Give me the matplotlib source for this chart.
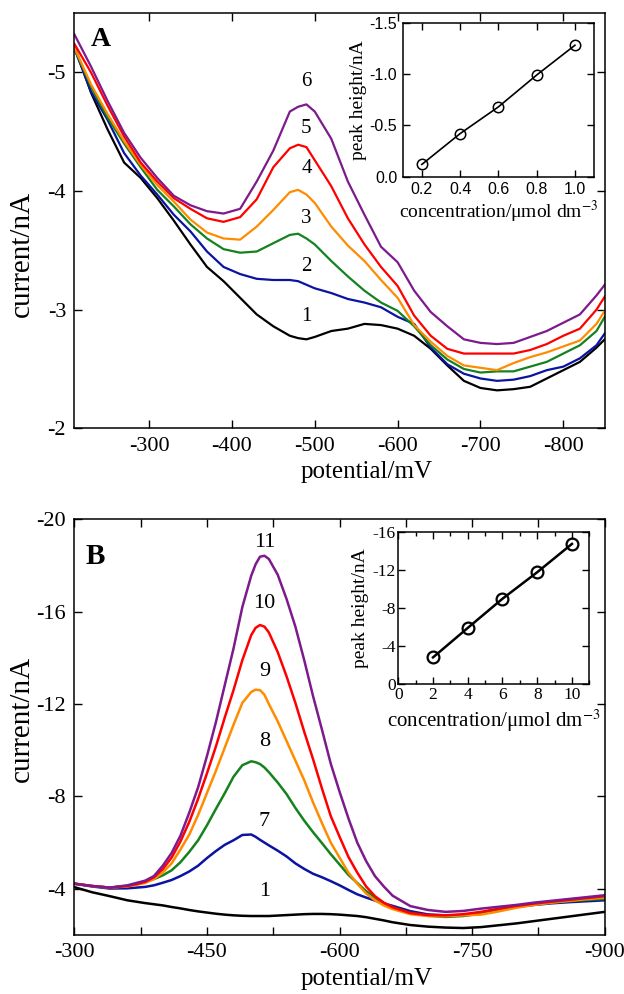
import matplotlib
matplotlib.use('Agg')
import matplotlib.pyplot as plt
from matplotlib.ticker import FormatStrFormatter, MultipleLocator

plt.rcParams['font.family'] = 'Liberation Serif'
plt.rcParams['mathtext.fontset'] = 'stix'
plt.rcParams['axes.unicode_minus'] = False

# ---- panel A: voltammograms (potential / mV, current / nA)
potA = [-210, -230, -250, -270, -290, -310, -330, -350, -370, -390, -410, -430,
        -450, -470, -480, -490, -500, -520, -540, -560, -580, -600, -620, -640,
        -660, -680, -700, -720, -740, -760, -780, -800, -820, -840, -850]
a1 = [-5.22, -4.83, -4.52, -4.24, -4.11, -3.94, -3.75, -3.55, -3.36, -3.24, -3.10, -2.96,
      -2.86, -2.78, -2.76, -2.75, -2.77, -2.82, -2.84, -2.88, -2.87, -2.84, -2.78, -2.67,
      -2.53, -2.40, -2.34, -2.32, -2.33, -2.35, -2.42, -2.49, -2.56, -2.68, -2.75]
a2 = [-5.20, -4.84, -4.60, -4.32, -4.13, -3.97, -3.80, -3.66, -3.49, -3.36, -3.30, -3.26,
      -3.25, -3.25, -3.24, -3.21, -3.18, -3.14, -3.09, -3.06, -3.02, -2.94, -2.88, -2.68,
      -2.54, -2.46, -2.42, -2.40, -2.41, -2.44, -2.49, -2.52, -2.59, -2.70, -2.80]
a3 = [-5.20, -4.88, -4.62, -4.40, -4.20, -4.01, -3.87, -3.72, -3.60, -3.51, -3.48, -3.49,
      -3.56, -3.63, -3.64, -3.60, -3.55, -3.41, -3.28, -3.16, -3.06, -2.99, -2.86, -2.70,
      -2.58, -2.50, -2.47, -2.48, -2.48, -2.52, -2.56, -2.63, -2.70, -2.82, -2.94]
a4 = [-5.21, -4.90, -4.65, -4.42, -4.22, -4.05, -3.91, -3.76, -3.65, -3.60, -3.59, -3.70,
      -3.84, -3.99, -4.01, -3.97, -3.90, -3.70, -3.54, -3.41, -3.25, -3.10, -2.87, -2.73,
      -2.61, -2.53, -2.51, -2.49, -2.55, -2.60, -2.64, -2.69, -2.74, -2.88, -2.99]
a5 = [-5.24, -5.00, -4.72, -4.46, -4.24, -4.08, -3.94, -3.85, -3.77, -3.74, -3.78, -3.93,
      -4.20, -4.36, -4.39, -4.37, -4.26, -4.04, -3.77, -3.55, -3.36, -3.20, -2.95, -2.78,
      -2.67, -2.63, -2.63, -2.63, -2.63, -2.66, -2.71, -2.78, -2.84, -3.00, -3.11]
a6 = [-5.32, -5.05, -4.76, -4.49, -4.28, -4.11, -3.96, -3.88, -3.83, -3.81, -3.85, -4.08,
      -4.34, -4.67, -4.71, -4.73, -4.67, -4.44, -4.08, -3.80, -3.53, -3.40, -3.16, -2.98,
      -2.86, -2.75, -2.72, -2.71, -2.72, -2.77, -2.82, -2.89, -2.96, -3.12, -3.21]

# inset A: calibration
concA = [0.2, 0.4, 0.6, 0.8, 1.0]
peakA = [-0.12, -0.42, -0.68, -0.99, -1.28]

# ---- panel B
potB = [-300, -320, -340, -360, -370, -380, -390, -400, -410, -420, -430, -440,
        -450, -460, -470, -480, -490, -500, -505, -510, -515, -520, -530, -540,
        -550, -560, -570, -580, -590, -600, -610, -620, -630, -640, -650, -660,
        -680, -700, -720, -740, -760, -780, -800, -820, -840, -860, -880, -900]
b1 = [-4.07, -3.85, -3.68, -3.50, -3.44, -3.38, -3.33, -3.28, -3.21, -3.15, -3.08, -3.02,
      -2.97, -2.92, -2.88, -2.85, -2.83, -2.82, -2.82, -2.82, -2.82, -2.82, -2.84, -2.86,
      -2.88, -2.90, -2.91, -2.91, -2.90, -2.88, -2.85, -2.82, -2.77, -2.70, -2.63, -2.55,
      -2.43, -2.36, -2.32, -2.30, -2.34, -2.42, -2.50, -2.60, -2.70, -2.80, -2.90, -3.00]
b7 = [-4.22, -4.10, -4.01, -4.02, -4.05, -4.08, -4.15, -4.26, -4.38, -4.55, -4.75, -5.00,
      -5.33, -5.63, -5.90, -6.10, -6.33, -6.35, -6.25, -6.12, -6.00, -5.88, -5.65, -5.40,
      -5.10, -4.86, -4.65, -4.50, -4.33, -4.15, -3.95, -3.76, -3.62, -3.49, -3.37, -3.26,
      -3.03, -2.89, -2.85, -2.85, -2.92, -3.08, -3.22, -3.30, -3.37, -3.42, -3.46, -3.50]
b8 = [-4.22, -4.12, -4.05, -4.12, -4.20, -4.30, -4.42, -4.58, -4.80, -5.15, -5.60, -6.10,
      -6.75, -7.45, -8.13, -8.85, -9.35, -9.52, -9.48, -9.40, -9.25, -9.05, -8.60, -8.10,
      -7.50, -6.95, -6.45, -5.98, -5.50, -5.05, -4.60, -4.25, -3.90, -3.62, -3.38, -3.20,
      -2.95, -2.83, -2.78, -2.82, -2.93, -3.08, -3.22, -3.32, -3.40, -3.46, -3.52, -3.56]
b9 = [-4.22, -4.12, -4.05, -4.10, -4.17, -4.25, -4.42, -4.70, -5.10, -5.70, -6.35, -7.20,
      -8.15, -9.10, -10.10, -11.10, -12.05, -12.52, -12.62, -12.60, -12.40, -12.00, -11.25, -10.40,
      -9.55, -8.70, -7.74, -6.85, -6.00, -5.35, -4.70, -4.22, -3.80, -3.50, -3.28, -3.12,
      -2.90, -2.82, -2.81, -2.85, -2.88, -3.02, -3.18, -3.30, -3.40, -3.48, -3.55, -3.62]
b10 = [-4.22, -4.12, -4.05, -4.12, -4.20, -4.30, -4.50, -4.85, -5.35, -6.05, -6.90, -7.90,
       -9.00, -10.15, -11.40, -12.60, -13.90, -14.98, -15.30, -15.42, -15.35, -15.10, -14.25, -13.20,
       -12.05, -10.80, -9.61, -8.35, -7.15, -6.25, -5.38, -4.70, -4.10, -3.68, -3.40, -3.20,
       -2.95, -2.86, -2.85, -2.90, -3.00, -3.14, -3.26, -3.36, -3.44, -3.52, -3.60, -3.68]
b11 = [-4.22, -4.12, -4.05, -4.15, -4.25, -4.35, -4.55, -5.00, -5.55, -6.30, -7.30, -8.40,
       -9.75, -11.20, -12.80, -14.40, -16.20, -17.55, -18.05, -18.38, -18.42, -18.28, -17.60, -16.55,
       -15.35, -13.90, -12.34, -10.90, -9.42, -8.20, -7.05, -6.00, -5.20, -4.55, -4.10, -3.70,
       -3.25, -3.08, -3.00, -3.04, -3.14, -3.22, -3.30, -3.40, -3.48, -3.56, -3.64, -3.72]

# inset B: calibration
concB = [2, 4, 6, 8, 10]
peakB = [-2.82, -5.91, -8.97, -11.75, -14.72]

colors = ['black', '#0a14a0', '#14821e', '#ff8c00', '#ff0000', '#7d1a8c']
labelsA = ['1', '2', '3', '4', '5', '6']
labposA = [-2.94, -3.36, -3.77, -4.19, -4.53, -4.92]
labelsB = ['1', '7', '8', '9', '10', '11']
labposB = [-3.89, -6.91, -10.37, -13.39, -16.34, -19.0]


def style(ax, size=16, length=6, pad=6):
    ax.tick_params(direction='in', top=True, right=True, length=length, width=1,
                   labelsize=size, pad=pad)
    for s in ax.spines.values():
        s.set_linewidth(1.1)


fig = plt.figure(figsize=(6.24, 9.94), dpi=100)

# ---------------- panel A
ax1 = fig.add_axes([0.1192, 0.5691, 0.850, 0.4178])
for y, c in zip([a1, a2, a3, a4, a5, a6], colors):
    ax1.plot(potA, y, color=c, lw=1.6)
ax1.set_xlim(-210, -850)
ax1.set_ylim(-2, -5.5)
ax1.set_xticks([-300, -400, -500, -600, -700, -800])
ax1.set_yticks([-2, -3, -4, -5])
style(ax1)
ax1.set_xlabel('potential/mV', fontsize=18)
ax1.xaxis.set_label_coords(0.55, -0.079)
ax1.set_ylabel('current/nA', fontsize=21)
ax1.yaxis.set_label_coords(-0.075, 0.42)
for t, yy in zip(labelsA, labposA):
    ax1.text(-490, yy, t, fontsize=15, ha='center', va='center')
ax1.text(0.031, 0.92, 'A', transform=ax1.transAxes, fontsize=20, fontweight='bold')

axi1 = fig.add_axes([0.6454, 0.8222, 0.3066, 0.155])
axi1.plot(concA, peakA, color='black', lw=1.2, marker='o', ms=7.5,
          mfc='none', mec='black', mew=1.1)
axi1.set_xlim(0.1, 1.1)
axi1.set_ylim(0, -1.5)
axi1.set_xticks([0.2, 0.4, 0.6, 0.8, 1.0])
axi1.set_yticks([0.0, -0.5, -1.0, -1.5])
axi1.xaxis.set_major_formatter(FormatStrFormatter('%.1f'))
axi1.yaxis.set_major_formatter(FormatStrFormatter('%.1f'))
style(axi1, size=11.5, length=5, pad=4)
for lab in axi1.get_xticklabels() + axi1.get_yticklabels():
    lab.set_family('Liberation Sans')
axi1.set_xlabel(r'concentration/μmol dm$^{-3}$', fontsize=14, labelpad=1)
axi1.set_ylabel('peak height/nA', fontsize=14, labelpad=2)

# ---------------- panel B
ax2 = fig.add_axes([0.1192, 0.0594, 0.850, 0.4182])
for y, c in zip([b1, b7, b8, b9, b10, b11], colors):
    ax2.plot(potB, y, color=c, lw=1.8)
ax2.set_xlim(-300, -900)
ax2.set_ylim(-2, -20)
ax2.set_xticks([-300, -450, -600, -750, -900])
ax2.xaxis.set_minor_locator(MultipleLocator(75))
ax2.set_yticks([-4, -8, -12, -16, -20])
style(ax2)
ax2.tick_params(which='minor', direction='in', top=True, length=6, width=1)
ax2.set_xlabel('potential/mV', fontsize=18)
ax2.xaxis.set_label_coords(0.55, -0.079)
ax2.set_ylabel('current/nA', fontsize=21)
ax2.yaxis.set_label_coords(-0.075, 0.52)
for t, yy in zip(labelsB, labposB):
    ax2.text(-515, yy, t, fontsize=16, ha='center', va='center')
ax2.text(0.022, 0.892, 'B', transform=ax2.transAxes, fontsize=21, fontweight='bold')

axi2 = fig.add_axes([0.6383, 0.3116, 0.3061, 0.1535])
axi2.plot(concB, peakB, color='black', lw=1.8, marker='o', ms=8.5,
          mfc='none', mec='black', mew=1.6)
axi2.set_xlim(0, 11)
axi2.set_ylim(0, -16)
axi2.set_xticks([0, 2, 4, 6, 8, 10])
axi2.xaxis.set_minor_locator(MultipleLocator(1))
axi2.set_yticks([0, -4, -8, -12, -16])
style(axi2, size=12.5, length=5, pad=2)
axi2.tick_params(which='minor', direction='in', top=True, length=3, width=1)
axi2.set_xlabel(r'concentration/μmol dm$^{-3}$', fontsize=15, labelpad=3)
axi2.set_ylabel('peak height/nA', fontsize=14, labelpad=2)

fig.savefig('out.png', dpi=100)
